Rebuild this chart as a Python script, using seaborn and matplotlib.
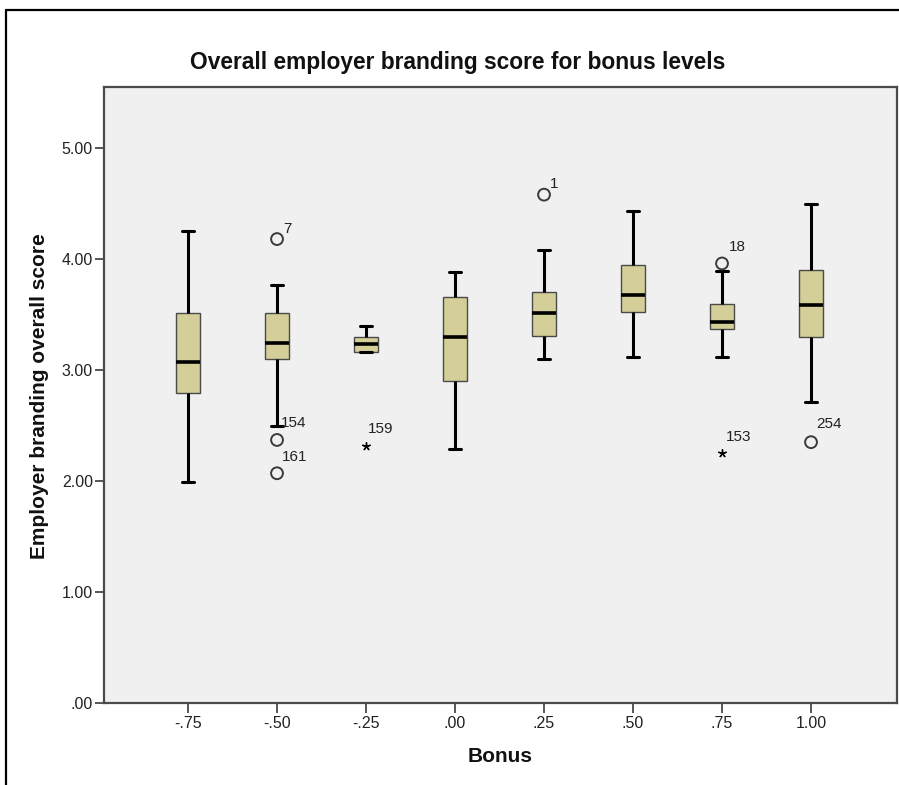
import matplotlib
matplotlib.use("Agg")
import matplotlib.pyplot as plt
from matplotlib.lines import Line2D
import seaborn as sns
import pandas as pd

# Bonus levels (category labels as printed on the axis)
bonus_levels = ["-.75", "-.50", "-.25", ".00", ".25", ".50", ".75", "1.00"]

# Five-number summaries per bonus level
whisker_low = [1.99, 2.50, 3.165, 2.285, 3.10, 3.115, 3.115, 2.715]
q1 = [2.79, 3.10, 3.165, 2.90, 3.31, 3.525, 3.37, 3.295]
median = [3.07, 3.24, 3.23, 3.30, 3.515, 3.68, 3.43, 3.59]
q3 = [3.51, 3.51, 3.30, 3.655, 3.705, 3.945, 3.595, 3.90]
whisker_high = [4.25, 3.77, 3.40, 3.885, 4.08, 4.43, 3.895, 4.495]

# Outlying cases (circles) and extreme cases (stars) with case numbers
outlier_level = ["-.50", "-.50", "-.50", ".25", ".75", "1.00"]
outlier_value = [4.18, 2.37, 2.07, 4.58, 3.96, 2.35]
outlier_case = ["7", "154", "161", "1", "18", "254"]

extreme_level = ["-.25", ".75"]
extreme_value = [2.315, 2.25]
extreme_case = ["159", "153"]

y_ticks = [0, 1, 2, 3, 4, 5]
y_tick_labels = [".00", "1.00", "2.00", "3.00", "4.00", "5.00"]

sns.set_theme(style="white")
plt.rcParams["font.family"] = ["Liberation Sans", "DejaVu Sans"]

fig = plt.figure(figsize=(8.99, 7.85), dpi=100)
ax = fig.add_axes([104 / 899, 1 - 703 / 785, (897 - 104) / 899, (703 - 87) / 785])
ax.set_facecolor("#f0f0f0")

# Long-form table: each level holds exactly its five summary values, so the
# quartiles computed by seaborn equal the summaries and whiskers span min..max.
rows = []
for lvl, lo, a, m, b, hi in zip(bonus_levels, whisker_low, q1, median, q3, whisker_high):
    for v in (lo, a, m, b, hi):
        rows.append({"Bonus": lvl, "Score": v})
summary = pd.DataFrame(rows)

sns.boxplot(
    data=summary, x="Bonus", y="Score", order=bonus_levels, ax=ax,
    whis=(0, 100), showfliers=False, width=0.26, color="#d4ce98",
    capwidths=0.125,
    boxprops=dict(edgecolor="#4a4a4a", linewidth=1.0, facecolor="#d4ce98"),
    medianprops=dict(color="black", linewidth=2.6),
    whiskerprops=dict(color="black", linewidth=2.2),
    capprops=dict(color="black", linewidth=2.2),
)

outliers = pd.DataFrame({"Bonus": outlier_level, "Score": outlier_value})
extremes = pd.DataFrame({"Bonus": extreme_level, "Score": extreme_value})

n_before = len(ax.collections)
sns.stripplot(data=outliers, x="Bonus", y="Score", order=bonus_levels, ax=ax,
              jitter=False, marker="o", size=8.5, color="#f0f0f0",
              edgecolor="#3a3a3a", linewidth=1.4, zorder=5)
for coll in ax.collections[n_before:]:
    coll.set_facecolor("none")
    coll.set_edgecolor("#3a3a3a")
    coll.set_linewidth(1.4)

sns.stripplot(data=extremes, x="Bonus", y="Score", order=bonus_levels, ax=ax,
              jitter=False, marker=(5, 2, 0), size=5.5, color="black",
              linewidth=1.0, edgecolor="black", zorder=5)

# Case-number labels beside each point (offsets in points)
label_offsets = {"7": (4.5, 7), "1": (4.5, 8), "154": (2.5, 12), "161": (3.5, 12),
                 "18": (5, 12), "254": (3.5, 13), "159": (1.5, 12), "153": (2.5, 12)}
for lvl, val, case in list(zip(outlier_level, outlier_value, outlier_case)) + \
        list(zip(extreme_level, extreme_value, extreme_case)):
    dx, dy = label_offsets[case]
    ax.annotate(case, (bonus_levels.index(lvl), val), xytext=(dx, dy),
                textcoords="offset points", ha="left", va="center",
                fontsize=11, color="#222222")

ax.set_xlim(-0.944, 7.966)
ax.set_ylim(0, 5.55)
ax.set_yticks(y_ticks)
ax.set_yticklabels(y_tick_labels)
ax.set_xticks(range(len(bonus_levels)))
ax.set_xticklabels(bonus_levels)
ax.set_xlabel("")
ax.set_ylabel("")
ax.tick_params(axis="y", length=6.5, width=1.2, color="#3a3a3a", pad=1.5,
               labelsize=11.5, labelcolor="#222222", left=True)
ax.tick_params(axis="x", length=7, width=1.2, color="#3a3a3a", pad=2.5,
               labelsize=11.5, labelcolor="#222222", bottom=True)
for side in ax.spines.values():
    side.set_visible(True)
    side.set_color("#4a4a4a")
    side.set_linewidth(1.6)

fig.text(458 / 899, 1 - 62 / 785, "Overall employer branding score for bonus levels",
         ha="center", va="center", fontsize=16.4, fontweight="bold", color="#111111")
fig.text(40 / 899, 1 - 396 / 785, "Employer branding overall score", rotation=90,
         ha="center", va="center", fontsize=15, fontweight="bold", color="#111111")
fig.text(500 / 899, 1 - 756 / 785, "Bonus", ha="center", va="center",
         fontsize=15, fontweight="bold", color="#111111")

# Outer chart frame (top and left edges)
fig.add_artist(Line2D([5.5 / 899, 1.0], [1 - 9.5 / 785, 1 - 9.5 / 785],
                      transform=fig.transFigure, color="black", linewidth=1.6))
fig.add_artist(Line2D([5.5 / 899, 5.5 / 899], [0.0, 1 - 9.5 / 785],
                      transform=fig.transFigure, color="black", linewidth=1.6))

fig.savefig("out.png", dpi=100, facecolor="white")
